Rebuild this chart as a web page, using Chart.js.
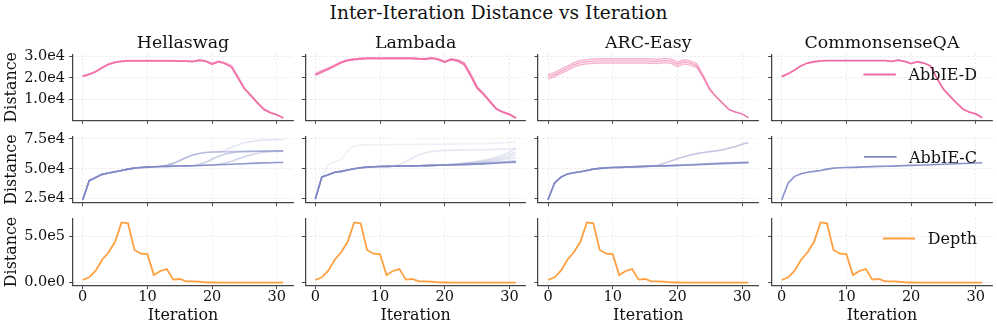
<!DOCTYPE html>
<html>
<head>
<meta charset="utf-8">
<title>Inter-Iteration Distance vs Iteration</title>
<script src="https://cdn.jsdelivr.net/npm/chart.js@4.4.1/dist/chart.umd.min.js"></script>
<style>
  html, body { margin: 0; padding: 0; background: #fff; overflow: hidden; }
  #figure { position: relative; width: 997px; height: 329px; }
  #figure canvas { position: absolute; left: 0; top: 0; }
  #suptitle {
    position: absolute; left: 0; top: 2px; width: 997px;
    text-align: center; font: 18.6px 'DejaVu Serif', serif; line-height: 22px; color: #111;
  }
</style>
</head>
<body>
<div id="figure">
  <div id="suptitle">Inter-Iteration Distance vs Iteration</div>
</div>
<script>
// ==========================================
// 1. DATA
// ==========================================
const ITERATIONS = [0, 1, 2, 3, 4, 5, 6, 7, 8, 9, 10, 11, 12, 13, 14, 15,
                    16, 17, 18, 19, 20, 21, 22, 23, 24, 25, 26, 27, 28, 29, 30, 31];
const X_TICKS = [0, 10, 20, 30];
const X_TICK_LABELS = ['0', '10', '20', '30'];

const TASKS = ['Hellaswag', 'Lambada', 'ARC-Easy', 'CommonsenseQA'];
const SERIES_NAMES = ['AbbIE-D', 'AbbIE-C', 'Depth'];

const D_TICKS = [10000, 20000, 30000];
const D_TICK_LABELS = ['1.0e4', '2.0e4', '3.0e4'];
const C_TICKS = [25000, 50000, 75000];
const C_TICK_LABELS = ['2.5e4', '5.0e4', '7.5e4'];
const DEPTH_TICKS = [0, 500000];
const DEPTH_TICK_LABELS = ['0.0e0', '5.0e5'];

// AbbIE-D (one array per run)
const HS_D1 = [20700, 21700, 22900, 24800, 26400, 27300, 27800, 28000, 28000, 28000, 28000, 28000, 28000, 28000, 28000, 27900,
               27900, 27700, 28300, 27900, 26400, 27600, 26700, 25100, 20000, 14900, 11700, 8300, 5200, 3700, 2700, 1200];
const HS_D2 = [20800, 21800, 23000, 24900, 26500, 27400, 27900, 28100, 28100, 28100, 28100, 28100, 28100, 28100, 28100, 28000,
               28000, 27800, 28400, 28000, 26800, 27900, 27100, 25700, 20600, 15200, 11800, 8400, 5300, 3700, 2700, 1200];
const LB_D1 = [21500, 22900, 24200, 25700, 27300, 28300, 28700, 29000, 29200, 29200, 29200, 29200, 29200, 29200, 29200, 29200,
               29000, 28900, 29300, 28700, 27500, 28700, 28100, 26500, 21300, 15400, 12400, 8900, 5400, 4000, 2900, 1200];
const LB_D2 = [21900, 23400, 24600, 26000, 27500, 28500, 28900, 29200, 29300, 29300, 29300, 29300, 29300, 29300, 29300, 29300,
               29100, 29000, 29400, 28900, 27700, 28900, 28500, 27100, 22000, 15900, 12600, 9000, 5500, 4000, 2900, 1200];
const LB_D3 = [21300, 22600, 24000, 25500, 27100, 28100, 28600, 28900, 29100, 29100, 29100, 29100, 29100, 29100, 29100, 29100,
               28900, 28800, 29200, 28600, 27400, 28600, 27900, 26200, 20900, 15200, 12300, 8800, 5400, 3900, 2900, 1200];
const ARC_D1 = [20600, 21500, 23100, 24600, 26200, 27200, 27600, 27900, 28000, 28000, 28000, 28000, 28000, 28000, 28000, 28000,
                27900, 27800, 28200, 27900, 26400, 27600, 27000, 25700, 20600, 14600, 11100, 8100, 5100, 3900, 3100, 1300];
const ARC_D2 = [21600, 22500, 24100, 25600, 27200, 28200, 28600, 28900, 29000, 29000, 29000, 29000, 29000, 29000, 29000, 29000,
                28900, 28800, 29200, 28900, 27400, 28600, 28000, 26600, 21200, 14900, 11200, 8200, 5100, 3900, 3100, 1300];
const ARC_D3 = [19600, 20500, 22100, 23600, 25200, 26200, 26600, 26900, 27000, 27000, 27000, 27000, 27000, 27000, 27000, 27000,
                26900, 26800, 27200, 26900, 25400, 26600, 26000, 24800, 20000, 14300, 11000, 8000, 5100, 3900, 3100, 1300];
const CS_D1 = [20600, 22000, 23700, 25700, 27000, 27600, 28000, 28100, 28100, 28100, 28100, 28100, 28100, 28100, 28100, 28100,
               28100, 27800, 28400, 27800, 26700, 27600, 27000, 25600, 19800, 14700, 11400, 8300, 5400, 3900, 3100, 1300];

// AbbIE-C
const HS_C1 = [24000, 40000, 42700, 45300, 46400, 47500, 48600, 49700, 50500, 51000, 51400, 51700, 51900, 52000, 52200, 52300,
               52400, 52500, 52700, 52900, 53200, 53400, 53600, 53800, 54000, 54200, 54500, 54700, 54900, 55100, 55200, 55300];
const HS_C2 = [24000, 40000, 42700, 45300, 46400, 47500, 48600, 49700, 50500, 51000, 51400, 51700, 51900, 53000, 54500, 57000,
               59500, 61500, 62800, 63600, 64000, 64200, 64300, 64400, 64500, 64500, 64600, 64700, 64800, 64900, 64900, 65000];
const HS_C3 = [24000, 40000, 42700, 45300, 46400, 47500, 48600, 49700, 50500, 51000, 51400, 51700, 51900, 53000, 54500, 57000,
               59500, 61500, 62800, 63600, 64000, 64200, 65500, 68000, 70000, 71800, 72800, 73500, 74000, 74200, 74400, 74500];
const HS_C4 = [24000, 40000, 42700, 45300, 46400, 47500, 48600, 49700, 50500, 51000, 51400, 51700, 51900, 52000, 52200, 52300,
               52400, 52500, 53500, 55500, 58000, 60500, 62300, 63400, 64000, 64400, 64600, 64700, 64800, 64900, 65000, 65100];
const HS_C5 = [24000, 40000, 42700, 45300, 46400, 47500, 48600, 49700, 50500, 51000, 51400, 51700, 51900, 52000, 52200, 52300,
               52400, 52500, 52700, 52900, 53200, 53800, 54800, 56300, 58200, 60000, 61800, 63000, 63800, 64300, 64600, 64800];
const LB_C1 = [24500, 43000, 45000, 47000, 47800, 49000, 50000, 50800, 51400, 51700, 51900, 52000, 52100, 52200, 52300, 52400,
               52500, 52600, 52800, 52900, 53100, 53200, 53400, 53500, 53700, 53900, 54100, 54400, 54700, 55000, 55300, 55600];
const LB_C2 = [24500, 43000, 45000, 47000, 47800, 49000, 50000, 50800, 51400, 51700, 51900, 52000, 52100, 52200, 52300, 52400,
               52500, 52600, 52800, 52900, 53100, 53300, 53500, 53700, 53900, 54200, 54500, 54800, 55200, 55600, 56000, 56300];
const LB_C3 = [24500, 43000, 53300, 56000, 57500, 65000, 69000, 70000, 70100, 70100, 70200, 70200, 70300, 70300, 70400, 70400,
               70500, 70500, 70600, 70600, 70700, 70700, 70800, 70800, 70900, 71000, 71100, 71300, 71500, 71700, 72000, 72300];
const LB_C4 = [24500, 43000, 45000, 47000, 47800, 49000, 50000, 50800, 51400, 51700, 51900, 52000, 52100, 53500, 56000, 59000,
               61700, 63500, 64500, 65000, 65300, 65500, 65600, 65700, 65800, 65900, 66000, 66200, 66400, 66600, 66800, 67000];
const LB_C5 = [24500, 43000, 45000, 47000, 47800, 49000, 50000, 50800, 51400, 51700, 51900, 52000, 52100, 52200, 52300, 52400,
               52500, 52600, 52800, 53000, 53300, 53700, 54200, 54800, 55500, 56300, 57200, 58300, 59700, 61500, 64000, 67200];
const LB_C6 = [24500, 43000, 45000, 47000, 47800, 49000, 50000, 50800, 51400, 51700, 51900, 52000, 52100, 52200, 52300, 52400,
               52500, 52600, 52800, 53000, 53300, 53600, 54000, 54500, 55100, 55700, 56400, 57300, 58400, 59800, 61800, 64300];
const LB_C7 = [24500, 43000, 45000, 47000, 47800, 49000, 50000, 50800, 51400, 51700, 51900, 52000, 52100, 52200, 52300, 52400,
               52500, 52600, 52800, 53000, 53200, 53500, 53800, 54200, 54700, 55200, 55800, 56500, 57400, 58500, 60000, 62000];
const LB_C8 = [24500, 43000, 45000, 47000, 47800, 49000, 50000, 50800, 51400, 51700, 51900, 52000, 52100, 52200, 52300, 52400,
               52500, 52600, 52800, 52900, 53100, 53300, 53600, 53900, 54300, 54700, 55200, 55800, 56500, 57300, 58300, 59500];
const ARC_C1 = [24000, 38000, 43000, 45600, 46700, 47500, 48600, 49700, 50300, 50700, 51000, 51200, 51400, 51600, 51800, 52000,
                52200, 52300, 52400, 52600, 52800, 53000, 53200, 53400, 53600, 53800, 54000, 54200, 54400, 54600, 54800, 55000];
const ARC_C2 = [24000, 38000, 43000, 45600, 46700, 47500, 48600, 49700, 50300, 50700, 51000, 51200, 51400, 51600, 51800, 52000,
                52200, 52300, 52400, 52600, 52800, 53100, 53400, 53700, 54000, 54300, 54600, 54900, 55100, 55300, 55500, 55600];
const ARC_C3 = [24000, 38000, 43000, 45600, 46700, 47500, 48600, 49700, 50300, 50700, 51000, 51200, 51400, 51600, 51800, 52000,
                52200, 53000, 54700, 56500, 58400, 60000, 61500, 62700, 63700, 64400, 65000, 66000, 67300, 68700, 70500, 72000];
const CS_C1 = [24000, 38000, 43600, 45800, 47000, 47800, 48600, 49700, 50500, 50800, 51000, 51200, 51400, 51600, 51800, 52000,
               52100, 52200, 52400, 52600, 52800, 53000, 53200, 53400, 53600, 53800, 54000, 54200, 54400, 54600, 54800, 55000];

// Depth (same curve in every task)
const DEPTH = [29000, 58000, 130000, 250000, 330000, 445000, 655000, 645000, 355000, 315000, 310000, 83000, 127000, 148000, 33000, 40000,
               14000, 14000, 11000, 4000, 2000, 1500, 1200, 1000, 800, 700, 600, 500, 400, 400, 300, 300];

// rows = series, columns = tasks, each cell holds its runs
const RUNS = [
  [[HS_D1, HS_D2], [LB_D1, LB_D2, LB_D3], [ARC_D1, ARC_D2, ARC_D3], [CS_D1]],
  [[HS_C1, HS_C2, HS_C4, HS_C5, HS_C3], [LB_C1, LB_C2, LB_C4, LB_C5, LB_C6, LB_C7, LB_C8, LB_C3], [ARC_C1, ARC_C2, ARC_C3], [CS_C1]],
  [[DEPTH], [DEPTH], [DEPTH], [DEPTH]]
];

// ==========================================
// 2. STYLE + LAYOUT
// ==========================================
const COLORS = ['240,106,164', '124,134,196', '255,160,64'];
const RUN_ALPHA = [
  [[0.9, 0.5], [0.85, 0.5, 0.5], [0.6, 0.5, 0.5], [1]],
  [[0.85, 0.45, 0.4, 0.35, 0.2], [0.85, 0.6, 0.2, 0.2, 0.2, 0.2, 0.2, 0.12], [0.85, 0.6, 0.45], [0.9]],
  [[1], [1], [1], [1]]
];
const RUN_WIDTH = [[1.8, 1.8, 1.4, 1.8], [1.6, 1.6, 1.6, 1.6], [1.8, 1.8, 1.8, 1.8]];
const ROW_TICKS = [D_TICKS, C_TICKS, DEPTH_TICKS];
const ROW_TICK_LABELS = [D_TICK_LABELS, C_TICK_LABELS, DEPTH_TICK_LABELS];
const ROW_MIN = [140, 21600, -33000];
const ROW_MAX = [31100, 76900, 700000];

const FIG_W = 997, FIG_H = 329;
const PLOT_LEFT = [72.7, 305.3, 538, 771.7];
const PLOT_W = 220.6;
const PLOT_TOP = [54.3, 136.7, 218.3];
const PLOT_BOTTOM = [120.2, 202.6, 285.7];
const TEXT = '#111';
const SPINE = '#444';
const GRID = 'rgba(0,0,0,0.11)';
const TICK_FONT = {size: 14.5, lineHeight: 1.15};
const LABEL_FONT = {size: 15.9, lineHeight: 1.2};
const TITLE_FONT = {size: 17.4, weight: 'normal', lineHeight: 1.2};

Chart.defaults.font.family = "'DejaVu Serif', serif";
Chart.defaults.color = TEXT;

// legend (no frame) drawn in the upper right of the last column
const cornerLegend = {
  id: 'cornerLegend',
  afterDatasetsDraw(chart, args, opts) {
    if (!opts.text) return;
    const {ctx, chartArea} = chart;
    ctx.save();
    ctx.font = "16px 'DejaVu Serif'";
    const tw = ctx.measureText(opts.text).width;
    const handle = 32.5, gap = 12.5;
    const textRight = chartArea.right - 15.3;
    const tx = textRight - tw;
    const cy = chartArea.top + 20.2;
    ctx.strokeStyle = opts.color;
    ctx.lineWidth = 1.8;
    ctx.beginPath();
    ctx.moveTo(tx - gap - handle, cy);
    ctx.lineTo(tx - gap, cy);
    ctx.stroke();
    ctx.fillStyle = TEXT;
    ctx.textBaseline = 'middle';
    ctx.fillText(opts.text, tx, cy + 1.5);
    ctx.restore();
  }
};

function makeCell(r, c) {
  const canvas = document.createElement('canvas');
  canvas.width = FIG_W;
  canvas.height = FIG_H;
  document.getElementById('figure').appendChild(canvas);

  const first = c === 0;
  const last = r === 2;
  const yw = first ? PLOT_LEFT[0] : 8;
  const xh = last ? FIG_H - PLOT_BOTTOM[2] : 6;
  const titleLH = TITLE_FONT.size * TITLE_FONT.lineHeight;
  const padTop = r === 0 ? 43.5 - titleLH / 2 : PLOT_TOP[r];

  const datasets = RUNS[r][c].map((run, k) => ({
    label: SERIES_NAMES[r],
    data: ITERATIONS.map((x, i) => ({x: x, y: run[i]})),
    borderColor: 'rgba(' + COLORS[r] + ',' + RUN_ALPHA[r][c][k] + ')',
    borderWidth: RUN_WIDTH[r][c],
    pointRadius: 0,
    tension: 0,
    fill: false
  }));

  new Chart(canvas, {
    type: 'line',
    data: {datasets: datasets},
    plugins: [cornerLegend],
    options: {
      responsive: false,
      animation: false,
      events: [],
      layout: {
        padding: {
          left: PLOT_LEFT[c] - yw,
          right: FIG_W - PLOT_LEFT[c] - PLOT_W,
          top: padTop,
          bottom: FIG_H - PLOT_BOTTOM[r] - xh
        }
      },
      plugins: {
        legend: {display: false},
        tooltip: {enabled: false},
        title: {
          display: r === 0,
          text: TASKS[c],
          fullSize: false,
          font: TITLE_FONT,
          color: TEXT,
          padding: {top: 0, bottom: PLOT_TOP[0] - padTop - titleLH}
        },
        cornerLegend: {
          text: c === 3 ? SERIES_NAMES[r] : '',
          color: 'rgb(' + COLORS[r] + ')'
        }
      },
      scales: {
        x: {
          type: 'linear',
          min: -1.55,
          max: 32.55,
          afterBuildTicks: s => { s.ticks = X_TICKS.map(v => ({value: v})); },
          afterFit: s => { s.height = xh; },
          ticks: {
            display: last,
            autoSkip: false,
            maxRotation: 0,
            padding: 0,
            color: TEXT,
            font: TICK_FONT,
            callback: (v, i) => X_TICK_LABELS[i]
          },
          grid: {color: GRID, lineWidth: 0.8, tickLength: 3.5, tickColor: SPINE, tickWidth: 1},
          border: {color: SPINE, width: 1.25, dash: [2, 2]},
          title: {
            display: last,
            text: 'Iteration',
            color: TEXT,
            font: LABEL_FONT,
            padding: {top: 0, bottom: 4}
          }
        },
        y: {
          type: 'linear',
          min: ROW_MIN[r],
          max: ROW_MAX[r],
          afterBuildTicks: s => { s.ticks = ROW_TICKS[r].map(v => ({value: v})); },
          afterFit: s => { s.width = yw; },
          ticks: {
            display: first,
            padding: 4.2,
            color: TEXT,
            font: TICK_FONT,
            callback: (v, i) => ROW_TICK_LABELS[r][i]
          },
          grid: {color: GRID, lineWidth: 0.8, tickLength: 3.5, tickColor: SPINE, tickWidth: 1},
          border: {color: SPINE, width: 1.25, dash: [2, 2]},
          title: {
            display: first,
            text: 'Distance',
            color: TEXT,
            font: LABEL_FONT,
            padding: {top: 2.7, bottom: 0}
          }
        }
      }
    }
  });
}

// ==========================================
// 3. BUILD THE 3 x 4 GRID
// ==========================================
for (let r = 0; r < 3; r++) {
  for (let c = 0; c < 4; c++) {
    makeCell(r, c);
  }
}
</script>
</body>
</html>
